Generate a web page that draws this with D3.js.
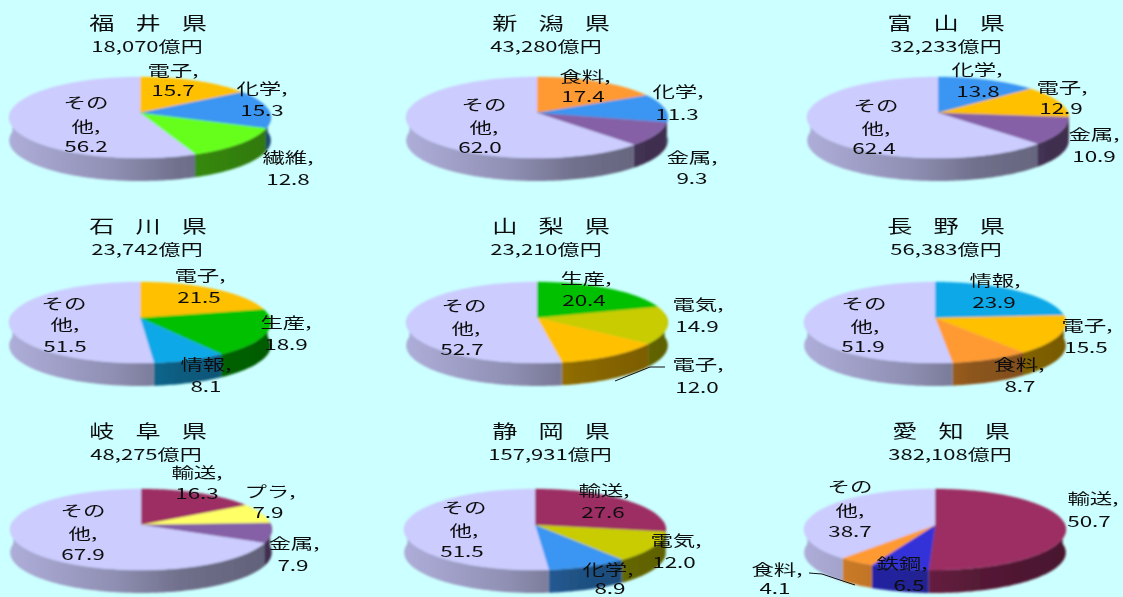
<!DOCTYPE html>
<html><head><meta charset="utf-8">
<script src="https://cdn.jsdelivr.net/npm/d3@7/dist/d3.min.js"></script>
<style>
html,body{margin:0;padding:0;background:#ccffff;overflow:hidden}
svg{display:block}
text{font-family:"Noto Sans CJK JP","Noto Sans",sans-serif;fill:#111;text-anchor:middle;dominant-baseline:central}
</style></head><body><svg id="c" width="1123" height="597"></svg>
<script>
// --- data ---
const prefectures=["福 井 県","新 潟 県","富 山 県","石 川 県","山 梨 県","長 野 県","岐 阜 県","静 岡 県","愛 知 県"];
const totals=["18,070億円","43,280億円","32,233億円","23,742億円","23,210億円","56,383億円","48,275億円","157,931億円","382,108億円"];
const sliceNames=[
 ["電子","化学","繊維","その他"],["食料","化学","金属","その他"],["化学","電子","金属","その他"],
 ["電子","生産","情報","その他"],["生産","電気","電子","その他"],["情報","電子","食料","その他"],
 ["輸送","プラ","金属","その他"],["輸送","電気","化学","その他"],["輸送","鉄鋼","食料","その他"]];
const sliceValues=[
 [15.7,15.3,12.8,56.2],[17.4,11.3,9.3,62.0],[13.8,12.9,10.9,62.4],
 [21.5,18.9,8.1,51.5],[20.4,14.9,12.0,52.7],[23.9,15.5,8.7,51.9],
 [16.3,7.9,7.9,67.9],[27.6,12.0,8.9,51.5],[50.7,6.5,4.1,38.7]];
// --- styling and layout ---
const palette={"電子":"#ffc000","化学":"#3a95f2","繊維":"#66ff1a","その他":"#ccccff","食料":"#ff9a33","金属":"#8561a6",
 "生産":"#00c000","情報":"#10a8e8","電気":"#c8cc00","輸送":"#9c2f63","プラ":"#ffff66","鉄鋼":"#3030d8"};
const centers=[[140,113],[537,113],[938,113],[140,318],[537,318],[935,318],[141,525],[535,525],[935,525]];
const titleY=[22,22,22,225,225,225,430,430,430];
const subY=[45,45,45,248,248,248,453,453,453];
const titleX=[148,551,946,148,551,946,148,551,951];
const subX=[147,546,946,147,546,946,146,550,950];
const nameXY=[
 [[173,70,173,90],[262,88,262,110],[288,157,288,179],[86,102,86,126,86,146]],
 [[585,76,583,96],[678,91,677,114],[692,157,692,178],[484,104,484,127,480,147]],
 [[977,69,978,91],[1062,87,1061,108],[1094,134,1094,156],[876,105,876,128,874,148]],
 [[200,275,199,297],[286,322,286,344],[206,364,206,386],[64,303,65,324,65,346]],
 [[586,278,584,300],[698,304,697,326],[698,364,697,387],[464,305,466,328,462,349]],
 [[995,280,994,302],[1087,325,1086,347],[1019,364,1020,386],[864,303,865,326,863,346]],
 [[197,472,197,493],[270,491,268,512],[294,543,293,565],[83,510,83,533,83,554]],
 [[604,490,603,512],[676,540,674,562],[608,569,610,588],[464,507,464,530,462,551]],
 [[1093,498,1089,521],[902,563,909,585],[777,569,775,588],[850,486,850,510,850,531]]];
const leaders=[{pie:4,pts:[[615,381],[650,367],[665,367]]},{pie:8,pts:[[809,573],[822,574],[855,585]]}];
const RX=130,RY=40,P=0.111,DEPTH=23,SX=1.5;

const svg=d3.select("#c");
const defs=svg.append("defs");
defs.append("filter").attr("id","soft").append("feGaussianBlur").attr("stdDeviation",0.9);
defs.append("filter").attr("id","softT").append("feGaussianBlur").attr("stdDeviation",0.35);
svg.append("rect").attr("width",1123).attr("height",597).attr("fill","#ccffff");

const pie=d3.pie().sort(null).value(d=>d);
const line=d3.line().x(d=>d[0]).y(d=>d[1]);
function project(cx,cy,a,r){
  const u=r*Math.sin(a),v=-r*Math.cos(a),k=1/(1-P*v);
  return [cx+RX*u*k,cy+RY*v*k];
}
function arcPts(cx,cy,a0,a1){
  const n=Math.max(2,Math.ceil((a1-a0)/0.02));
  return d3.range(n+1).map(i=>project(cx,cy,a0+(a1-a0)*i/n,1));
}
const rimA=Math.PI/2-Math.asin(P), rimB=3*Math.PI/2+Math.asin(P);

function put(g,str,x,y,size,sx){
  return g.append("text").attr("transform",`translate(${x},${y}) scale(${sx},1)`)
   .attr("font-size",size).text(str);
}

const gid=(i,j)=>`g${i}_${j}`;
prefectures.forEach((name,i)=>{
  const [cx,cy]=centers[i];
  const g=svg.append("g").attr("filter","url(#soft)");
  const arcs=pie(sliceValues[i]);
  arcs.forEach((s,j)=>{
    const a0=Math.max(s.startAngle,rimA),a1=Math.min(s.endAngle,rimB);
    if(a1<=a0) return;
    const base=d3.color(palette[sliceNames[i][j]]);
    const grad=defs.append("linearGradient").attr("id",gid(i,j)).attr("gradientUnits","userSpaceOnUse")
      .attr("x1",cx-RX).attr("x2",cx+RX).attr("y1",0).attr("y2",0);
    [[0,.85],[.4,.7],[.65,.55],[1,.47]].forEach(([o,f])=>{
      const c=d3.rgb(base.r*f,base.g*f,base.b*f);
      grad.append("stop").attr("offset",o).attr("stop-color",c.formatHex());
    });
    const top=arcPts(cx,cy,a0,a1);
    const bot=top.map(p=>[p[0],p[1]+DEPTH]).reverse();
    g.append("path").attr("d",line(top.concat(bot))+"Z").attr("fill",`url(#${gid(i,j)})`);
  });
  arcs.forEach((s,j)=>{
    const pts=[[cx,cy]].concat(arcPts(cx,cy,s.startAngle,s.endAngle));
    const col=palette[sliceNames[i][j]];
    g.append("path").attr("d",line(pts)+"Z").attr("fill",col).attr("stroke",col).attr("stroke-width",.4);
  });
  const t=svg.append("g").attr("filter","url(#softT)");
  put(t,name,titleX[i],titleY[i],18,1.4).attr("word-spacing",11);
  put(t,totals[i],subX[i],subY[i],15,1.47);
  sliceNames[i].forEach((n,j)=>{
    const xy=nameXY[i][j],v=sliceValues[i][j].toFixed(1);
    const lines=n==="その他"?["その","他,",v]:[n+",",v];
    lines.forEach((l,k)=>put(t,l,xy[2*k],xy[2*k+1],15,SX));
  });
});
leaders.forEach(l=>svg.append("path").attr("d",line(l.pts)).attr("fill","none").attr("stroke","#111").attr("stroke-width",1));
</script></body></html>
